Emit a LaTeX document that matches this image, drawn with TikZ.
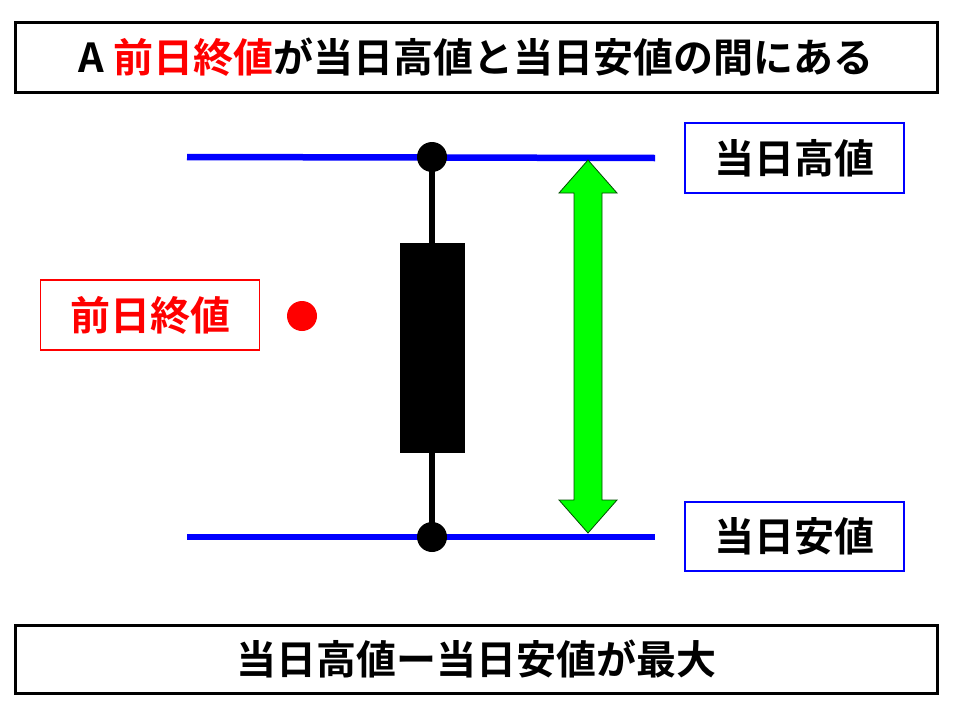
\documentclass[tikz,border=0pt]{standalone}
\usepackage{fontspec}
\setmainfont{Noto Sans CJK JP}[BoldFont={Noto Sans CJK JP Bold}]
\usepackage{tikz}
\usetikzlibrary{positioning}
\tikzset{>=stealth}
\tikzset{
  titlebox/.style={draw=black, line width=3pt, minimum width=922pt, minimum height=70pt, font=\fontsize{40}{44}\selectfont\bfseries},
  pricebox/.style={draw=blue, line width=1.5pt, minimum width=219pt, minimum height=70pt, font=\fontsize{40}{44}\selectfont\bfseries},
  level/.style={draw=blue, line width=6.5pt},
}

\begin{document}
\begin{tikzpicture}[x=1pt, y=-1pt]
\useasboundingbox (0,0) rectangle (960,720);
\node[titlebox] (T) at (476,57) {A {\color{red}前日終値}が当日高値と当日安値の間にある};
\node[titlebox, minimum height=68pt] (B) at (476,659) {当日高値ー当日安値が最大};
\node[pricebox] (H) at (794.5,158) {当日高値};
\node[pricebox, minimum height=69pt] (L) at (794.5,536.5) {当日安値};
\node[pricebox, draw=red, text=red] (P) at (150,315) {前日終値};
\fill[red] (302,316) circle (15);
% high / low lines
\coordinate (H1) at (187,157);
\coordinate (H2) at (655,158);
\coordinate (L1) at (187,537);
\coordinate (L2) at (655,537);
\draw[level] (H1)--(H2);
\draw[level] (L1)--(L2);
% candle
\coordinate (W1) at (432,157);
\coordinate (W2) at (432,537);
\draw[line width=6pt] (W1)--(W2);
\fill[black] (400,243) rectangle (465,453);
\fill[black] (W1) circle (15);
\fill[black] (W2) circle (15);
% range arrow
\filldraw[fill=green, draw=black!70!green, line width=0.8pt]
  (588,160) -- (617,193) -- (602,193) -- (602,500) -- (617,500) -- (588,533)
  -- (559,500) -- (574,500) -- (574,193) -- (559,193) -- cycle;
\end{tikzpicture}
\end{document}
